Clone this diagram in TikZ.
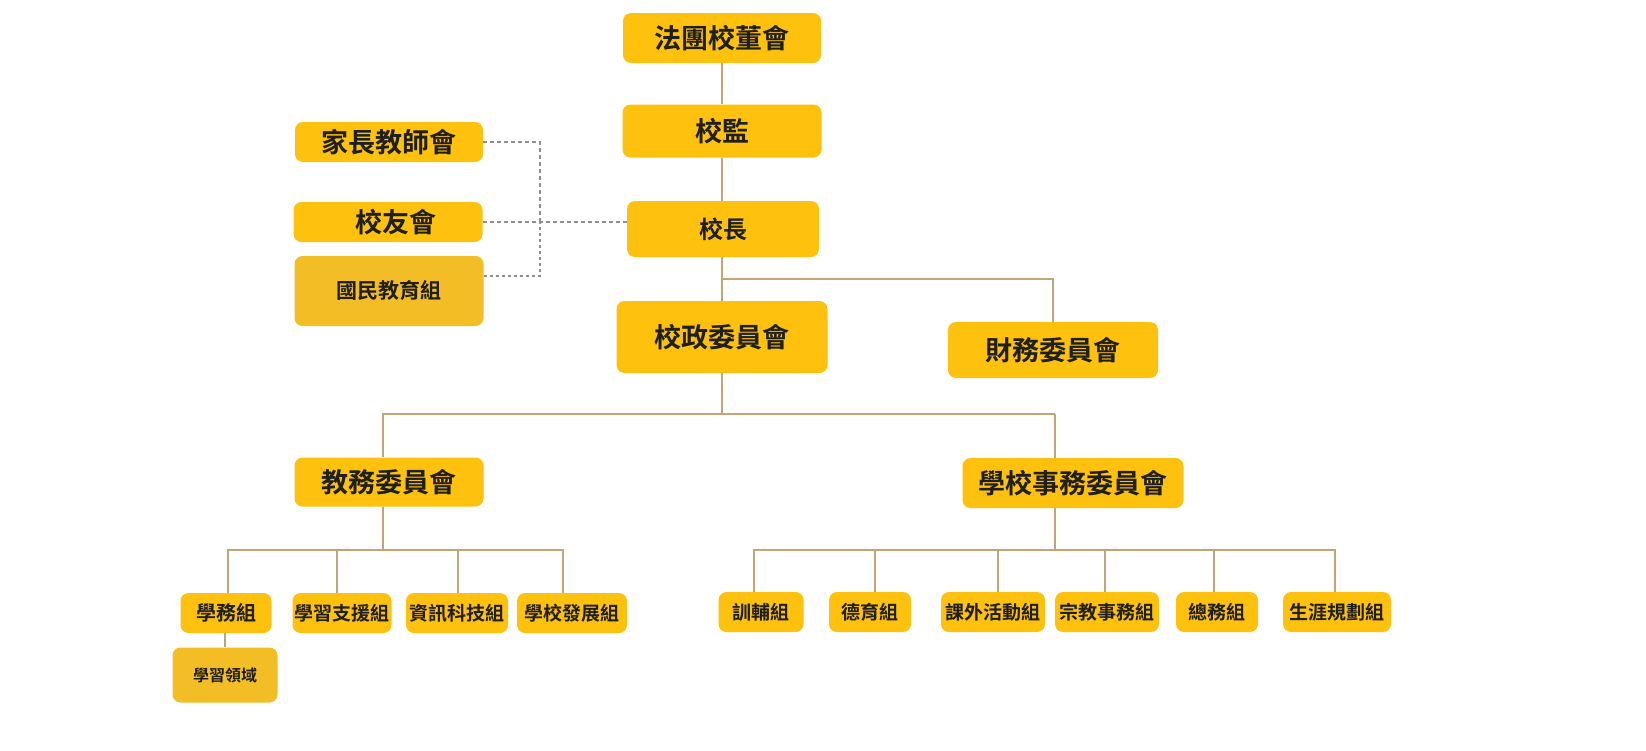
\documentclass[tikz,border=0pt]{standalone}
\usepackage{fontspec}
\setmainfont{Noto Sans CJK TC}[BoldFont=* Bold]
\usepackage{xcolor}
\definecolor{boxyellow}{HTML}{FEC10D}
\definecolor{boxgold}{HTML}{F3BD26}
\definecolor{linetan}{HTML}{C2A679}
\definecolor{dashgray}{HTML}{8F8F8F}
\tikzset{
  box/.style={fill=boxyellow, rounded corners=8pt, inner sep=0pt, text=black!88,
    font=\bfseries\fontsize{27}{30}\selectfont},
  goldbox/.style={box, fill=boxgold},
  smallbox/.style={box, minimum height=40pt, font=\bfseries\fontsize{19}{22}\selectfont},
  tree/.style={draw=linetan, line width=1.3pt},
  dashline/.style={draw=dashgray, line width=1.2pt, dash pattern=on 4pt off 3pt},
  dotline/.style={draw=dashgray, line width=1.8pt, dash pattern=on 3pt off 3pt}
}

\begin{document}
\begin{tikzpicture}[x=1pt,y=-1pt]
\useasboundingbox (0,0) rectangle (1646,750);
% main column
\node[box, minimum width=198pt, minimum height=50pt] (board) at (722,38) {法團校董會};
\node[box, minimum width=199pt, minimum height=53pt] (supervisor) at (722,131) {校監};
\node[box, minimum width=192pt, minimum height=56pt, font=\bfseries\fontsize{24}{27}\selectfont] (principal) at (723,229) {校長};
\node[box, minimum width=211pt, minimum height=72pt] (council) at (722,337) {校政委員會};
\node[box, minimum width=210pt, minimum height=56pt] (finance) at (1053,350) {財務委員會};
% left side
\node[box, minimum width=188pt, minimum height=40pt] (pta) at (389,142) {家長教師會};
\node[box, minimum width=189pt, minimum height=40pt] (alumni) at (388,222) {\hspace{16pt}校友會};
\node[goldbox, minimum width=189pt, minimum height=70pt, font=\bfseries\fontsize{21}{24}\selectfont] (civic) at (389,291) {國民教育組};
% committees
\node[box, minimum width=189pt, minimum height=49pt] (academic) at (389,482) {教務委員會};
\node[box, minimum width=221pt, minimum height=50pt] (affairs) at (1073,483) {學校事務委員會};
% academic groups
\node[smallbox, minimum width=91pt, font=\bfseries\fontsize{20}{23}\selectfont] (studentaff) at (226,613) {學務組};
\node[smallbox, minimum width=99pt] (learnsup) at (342,613) {學習支援組};
\node[smallbox, minimum width=102pt] (itech) at (457,613) {資訊科技組};
\node[smallbox, minimum width=110pt] (schooldev) at (572,613) {學校發展組};
\node[goldbox, minimum width=105pt, minimum height=55pt, font=\bfseries\fontsize{16}{19}\selectfont] (domain) at (225,675) {學習領域};
% school affairs groups
\node[smallbox, minimum width=85pt] (guidance) at (761,612) {訓輔組};
\node[smallbox, minimum width=82pt] (moral) at (870,612) {德育組};
\node[smallbox, minimum width=104pt] (extra) at (993,612) {課外活動組};
\node[smallbox, minimum width=104pt] (religion) at (1107,612) {宗教事務組};
\node[smallbox, minimum width=82pt] (general) at (1217,612) {總務組};
\node[smallbox, minimum width=108pt] (career) at (1337,612) {生涯規劃組};

% connectors
\coordinate (topbus) at (722,279);
\coordinate (midbus) at (722,414);
\coordinate (affx) at (1055,414);
\coordinate (acbus) at (383,550);
\coordinate (afbus) at (1055,550);
\coordinate (dashx) at (540,222);
\draw[tree] (board) -- (supervisor);
\draw[tree] (supervisor) -- (supervisor |- principal.north);
\draw[tree] (principal.south -| council) -- (council);
\draw[tree] (topbus) -| (finance);
\draw[tree] (council) -- (midbus);
\draw[tree] (academic.north -| acbus) |- (affx);
\draw[tree] (affx) -- (affx |- affairs.north);
\draw[tree] (academic.south -| acbus) -- (acbus);
\foreach \n/\s in {studentaff/2,learnsup/-5,itech/1,schooldev/-9}
  \draw[tree] (acbus) -| ([xshift=\s pt]\n.north);
\draw[tree] (affairs.south -| afbus) -- (afbus);
\foreach \n/\s in {guidance/-7,moral/5,extra/5,religion/-2,general/-3,career/-2}
  \draw[tree] (afbus) -| ([xshift=\s pt]\n.north);
\draw[tree] (studentaff.south -| domain) -- (domain);
% dashed links
\draw[dashline] (pta.east) -| (dashx);
\draw[dashline] (alumni.east) -- (alumni.east -| principal.west);
\draw[dotline] ([yshift=15pt]civic.east) -| (dashx);
\end{tikzpicture}
\end{document}
